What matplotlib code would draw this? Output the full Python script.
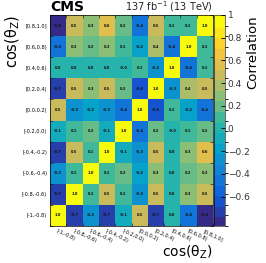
import numpy as np
import matplotlib
matplotlib.use("Agg")
import matplotlib.pyplot as plt
from matplotlib.colors import LinearSegmentedColormap, BoundaryNorm

# bins of cos(theta_Z), bottom -> top / left -> right
bins = ["[-1,-0.8)", "[-0.8,-0.6)", "[-0.6,-0.4)", "[-0.4,-0.2)", "[-0.2,0.0)",
        "[0.0,0.2)", "[0.2,0.4)", "[0.4,0.6)", "[0.6,0.8)", "[0.8,1.0]"]

# correlation matrix, rows listed from bottom bin [-1,-0.8) up to top [0.8,1.0]
row_m10 = [1.0, -0.7, -0.3, -0.7, -0.1, 0.5, -0.7, 0.0, -0.4, -0.8]
row_m08 = [-0.7, 1.0, 0.1, 0.5, 0.1, -0.3, 0.5, 0.0, 0.3, 0.5]
row_m06 = [-0.3, 0.1, 1.0, 0.1, 0.2, -0.2, 0.3, 0.0, 0.2, 0.3]
row_m04 = [-0.7, 0.5, 0.1, 1.0, -0.1, -0.3, 0.5, 0.0, 0.3, 0.6]
row_m02 = [-0.1, 0.1, 0.2, -0.1, 1.0, -0.4, 0.2, -0.0, 0.1, 0.2]
row_p00 = [0.5, -0.3, -0.2, -0.3, -0.4, 1.0, -0.6, 0.1, -0.2, -0.4]
row_p02 = [-0.7, 0.5, 0.3, 0.5, 0.2, -0.6, 1.0, -0.3, 0.4, 0.5]
row_p04 = [0.0, 0.0, 0.0, 0.0, -0.0, 0.1, -0.3, 1.0, -0.4, 0.1]
row_p06 = [-0.4, 0.3, 0.2, 0.3, 0.1, -0.2, 0.4, -0.4, 1.0, 0.1]
row_p08 = [-0.8, 0.5, 0.3, 0.6, 0.2, -0.4, 0.5, 0.1, 0.1, 1.0]

corr = np.array([row_m10, row_m08, row_m06, row_m04, row_m02,
                 row_p00, row_p02, row_p04, row_p06, row_p08])

# ROOT kBird palette
stops = [0.0, 0.125, 0.25, 0.375, 0.5, 0.625, 0.75, 0.875, 1.0]
red = [0.2082, 0.0592, 0.0780, 0.0232, 0.1802, 0.5301, 0.8186, 0.9956, 0.9764]
green = [0.1664, 0.3599, 0.5041, 0.6419, 0.7178, 0.7492, 0.7328, 0.7862, 0.9832]
blue = [0.5293, 0.8684, 0.8385, 0.7914, 0.6425, 0.4662, 0.3499, 0.1968, 0.0539]
bird = LinearSegmentedColormap.from_list(
    "bird", [(s, (r, g, b)) for s, r, g, b in zip(stops, red, green, blue)])

vmin, vmax, nlev = -0.86, 1.0, 20
levels = np.linspace(vmin, vmax, nlev + 1)
cmap = matplotlib.colors.ListedColormap(bird(np.linspace(0, 1, nlev)))
norm = BoundaryNorm(levels, nlev)

W, H = 266, 263
fig = plt.figure(figsize=(W / 100, H / 100), dpi=100)
ax = fig.add_axes([50 / W, 1 - 226 / H, 163 / W, 211 / H])
cax = fig.add_axes([214 / W, 1 - 226 / H, 11 / W, 211 / H])

n = len(bins)
im = ax.pcolormesh(np.arange(n + 1), np.arange(n + 1), corr, cmap=cmap, norm=norm)
for i in range(n):
    for j in range(n):
        ax.text(j + 0.5, i + 0.5, f"{corr[i, j]:.1f}", ha="center", va="center",
                fontsize=2.6, fontweight="bold", color="#111111")

ax.set_xlim(0, n); ax.set_ylim(0, n)
ax.set_xticks(np.arange(n) + 0.5)
ax.set_xticklabels(bins, rotation=-25, ha="left", va="top", rotation_mode="anchor",
                   fontsize=3.6)
ax.set_yticks(np.arange(n) + 0.5)
ax.set_yticklabels(bins, fontsize=3.6)
ax.tick_params(axis="both", which="major", length=0, pad=2)
ax.set_xticks(np.arange(n + 1), minor=True)
ax.set_yticks(np.arange(n + 1), minor=True)
ax.tick_params(which="minor", direction="in", length=2.5, width=0.5,
               top=True, right=True, color="#222222")
for sp in ax.spines.values():
    sp.set_linewidth(0.5)

cb = fig.colorbar(im, cax=cax, ticks=[-0.6, -0.4, -0.2, 0, 0.2, 0.4, 0.6, 0.8, 1])
cb.ax.set_yticklabels(["\u22120.6", "\u22120.4", "\u22120.2", "0", "0.2", "0.4",
                       "0.6", "0.8", "1"])
cax.tick_params(direction="in", length=3, width=0.6, labelsize=6.5, pad=2,
                labelcolor="#333333")
cb.outline.set_linewidth(0.4)
cb.solids.set_edgecolor("face")

fig.text(50 / W, 1 - 14 / H, "CMS", fontsize=10, fontweight="bold",
         ha="left", va="bottom")
fig.text(213 / W, 1 - 14 / H, r"137 fb$^{-1}$ (13 TeV)", fontsize=7,
         ha="right", va="bottom", color="#222222")
fig.text(4 / W, 1 - 15 / H, r"cos(θ$_\mathregular{Z}$)", fontsize=10.5, rotation=90,
         ha="left", va="top")
fig.text(213 / W, 2 / H, r"cos(θ$_\mathregular{Z}$)", fontsize=10, ha="right",
         va="bottom")
fig.text(246 / W, 1 - 15 / H, "Correlation", fontsize=9.5, rotation=90,
         ha="left", va="top")

fig.savefig("out.png", dpi=100)
